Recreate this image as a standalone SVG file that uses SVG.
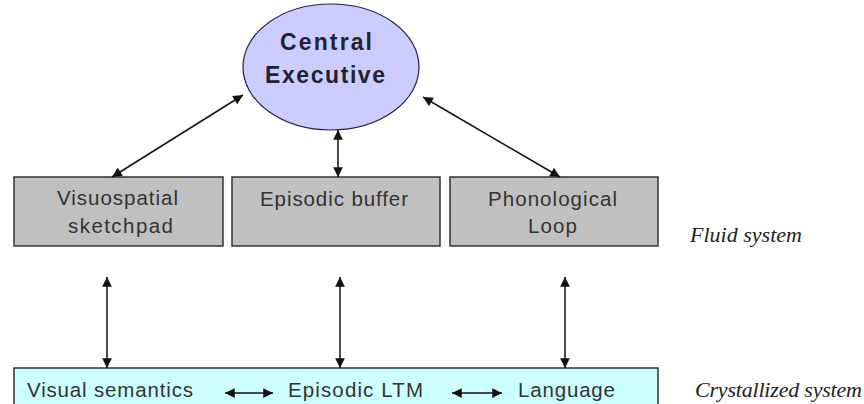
<svg xmlns="http://www.w3.org/2000/svg" width="864" height="404" viewBox="0 0 864 404">
<style>
.box{fill:#c0c0c0;stroke:#333333;stroke-width:1.5}
.lt{fill:#ccffff;stroke:#333333;stroke-width:1.5}
.t{font-family:"Liberation Sans",Arial,sans-serif;font-size:20.5px;fill:#333333}
.b{font-family:"Liberation Sans",Arial,sans-serif;font-size:23px;font-weight:bold;fill:#222233}
.i{font-family:"Liberation Serif","Times New Roman",serif;font-style:italic;font-size:22px;fill:#222222}
.c line{stroke:#111111;stroke-width:1.5;marker-start:url(#ah);marker-end:url(#ah)}
</style>
<defs>
<marker id="ah" viewBox="0 0 10 10" refX="10" refY="5" markerWidth="7.5" markerHeight="6.5" orient="auto-start-reverse" markerUnits="strokeWidth">
<path d="M0,0 L10,5 L0,10 z" fill="#111111"/>
</marker>
</defs>
<rect width="864" height="404" fill="#ffffff"/>
<g id="central-executive">
<ellipse cx="331" cy="67" rx="88" ry="63" fill="#ccccff" stroke="#222244" stroke-width="1.2"/>
<text class="b" x="280" y="50" textLength="92" lengthAdjust="spacing">Central</text>
<text class="b" x="265" y="83" textLength="120" lengthAdjust="spacing">Executive</text>
</g>
<g id="visuospatial">
<rect class="box" x="14" y="177" width="209" height="69"/>
<text class="t" x="57" y="205" textLength="121" lengthAdjust="spacing">Visuospatial</text>
<text class="t" x="68" y="233" textLength="105" lengthAdjust="spacing">sketchpad</text>
</g>
<g id="episodic-buffer">
<rect class="box" x="232" y="177" width="208" height="69"/>
<text class="t" x="260" y="206" textLength="148" lengthAdjust="spacing">Episodic buffer</text>
</g>
<g id="phonological-loop">
<rect class="box" x="450" y="177" width="208" height="69"/>
<text class="t" x="488" y="206" textLength="129" lengthAdjust="spacing">Phonological</text>
<text class="t" x="528" y="233" textLength="49" lengthAdjust="spacing">Loop</text>
</g>
<g id="fluid-label">
<text class="i" x="690" y="242" textLength="112" lengthAdjust="spacing">Fluid system</text>
</g>
<g id="crystallized">
<rect class="lt" x="14" y="368" width="644" height="44"/>
<text class="t" x="27" y="397" textLength="166" lengthAdjust="spacing">Visual semantics</text>
<text class="t" x="288" y="397" textLength="135" lengthAdjust="spacing">Episodic LTM</text>
<text class="t" x="518" y="397" textLength="97" lengthAdjust="spacing">Language</text>
</g>
<g id="crystallized-label">
<text class="i" x="695" y="397" textLength="167" lengthAdjust="spacing">Crystallized system</text>
</g>
<g id="connectors" class="c">
<line x1="243" y1="95" x2="112" y2="177"/>
<line x1="423" y1="97" x2="560" y2="177"/>
<line x1="338" y1="130" x2="338" y2="177"/>
<line x1="107" y1="277" x2="107" y2="368"/>
<line x1="340" y1="277" x2="340" y2="368"/>
<line x1="565" y1="277" x2="565" y2="368"/>
<line x1="225" y1="393" x2="273" y2="393"/>
<line x1="452" y1="393" x2="502" y2="393"/>
</g>
</svg>
